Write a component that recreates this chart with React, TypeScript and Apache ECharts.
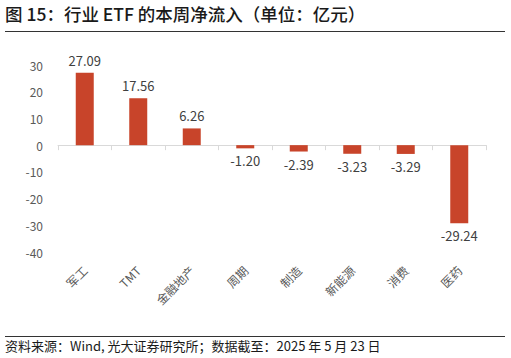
import React, { useEffect, useRef } from "react";
import * as echarts from "echarts";

const categories = ["军工", "TMT", "金融地产", "周期", "制造", "新能源", "消费", "医药"];
const values = [27.09, 17.56, 6.26, -1.2, -2.39, -3.23, -3.29, -29.24];
const yTicks = [-40, -30, -20, -10, 0, 10, 20, 30];
const titleText = "图 15：行业 ETF 的本周净流入（单位：亿元）";
const sourceText = "资料来源：Wind, 光大证券研究所；数据截至：2025 年 5 月 23 日";

const FONT = "'Noto Sans CJK SC', 'Noto Sans', sans-serif";

export default function App() {
  const ref = useRef<HTMLDivElement>(null);
  useEffect(() => {
    if (!ref.current) return;
    const chart = echarts.init(ref.current, null, { renderer: "svg" });
    chart.setOption({
      animation: false,
      backgroundColor: "#ffffff",
      textStyle: { fontFamily: FONT },
      graphic: [
        {
          type: "text",
          left: 5,
          top: 5,
          style: { text: titleText, font: `500 17.5px ${FONT}`, fill: "#1a1a1a" },
        },
        {
          type: "line",
          shape: { x1: 5, y1: 31.5, x2: 505, y2: 31.5 },
          style: { stroke: "#333333", lineWidth: 1 },
        },
        {
          type: "line",
          shape: { x1: 5, y1: 336.5, x2: 505, y2: 336.5 },
          style: { stroke: "#333333", lineWidth: 1 },
        },
        {
          type: "text",
          left: 5,
          top: 339,
          style: { text: sourceText, font: `13px ${FONT}`, fill: "#1a1a1a" },
        },
      ],
      grid: { left: 58, right: 25, top: 65, bottom: 106, containLabel: false },
      xAxis: {
        type: "category",
        data: categories,
        axisLine: { show: true, onZero: true, lineStyle: { color: "#d9d9d9" } },
        axisTick: { show: true, alignWithLabel: false, length: 5, lineStyle: { color: "#d9d9d9" } },
        axisLabel: {
          rotate: 45,
          interval: 0,
          color: "#595959",
          fontSize: 12,
          fontFamily: FONT,
          margin: 16,
        },
        position: "bottom",
      },
      yAxis: {
        type: "value",
        min: -40,
        max: 30,
        interval: 10,
        axisLine: { show: false },
        axisTick: { show: false },
        splitLine: { show: false },
        axisLabel: {
          color: "#595959",
          fontSize: 12,
          fontFamily: FONT,
          margin: 15,
          customValues: yTicks,
        },
      },
      series: [
        {
          type: "bar",
          barWidth: 18,
          data: values.map((v) => ({
            value: v,
            label: { position: v >= 0 ? "top" : "bottom" },
          })),
          itemStyle: { color: "#C8442A" },
          label: {
            show: true,
            color: "#404040",
            fontSize: 13,
            fontFamily: FONT,
            distance: 6,
            formatter: (p: any) => Number(p.value).toFixed(2),
          },
        },
      ],
    });
    return () => chart.dispose();
  }, []);
  return (
    <div
      ref={ref}
      style={{ position: "fixed", left: 0, top: 0, width: 511, height: 358, background: "#fff" }}
    />
  );
}
